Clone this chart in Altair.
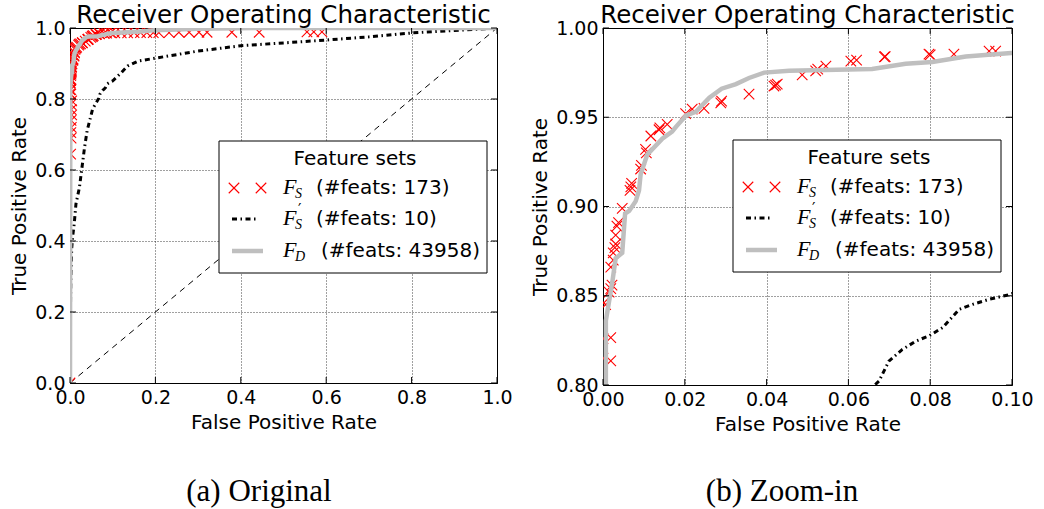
import altair as alt
import pandas as pd

# ---------------- data ----------------
# F_S : red "x" markers
fs_fpr = [0.0,
          0.0015, 0.0025, 0.002, 0.003, 0.0025, 0.004, 0.003, 0.002, 0.004,
          0.0, 0.0019, 0.0, 0.0019, 0.00065, 0.0002, 0.0015, 0.0019, 0.0022,
          0.0019, 0.0025, 0.0025, 0.0029, 0.0031, 0.0031, 0.0034, 0.0038,
          0.0047, 0.0066, 0.0068, 0.0070,
          0.0092, 0.0094, 0.0104, 0.0106, 0.0117, 0.0137, 0.0139, 0.0157,
          0.0202, 0.0218, 0.0247, 0.0288, 0.0290, 0.0357, 0.0418, 0.0422,
          0.0426, 0.0487, 0.0520, 0.0525, 0.0545, 0.0606, 0.0620, 0.0688,
          0.0690, 0.0797, 0.0800, 0.0858, 0.0944, 0.0960,
          0.105, 0.12, 0.135, 0.15, 0.165, 0.18, 0.195, 0.208, 0.232, 0.255,
          0.279, 0.302, 0.321, 0.379, 0.443, 0.555, 0.571, 0.590]
fs_tpr = [0.0,
          0.645, 0.69, 0.705, 0.72, 0.74, 0.755, 0.77, 0.785, 0.795,
          0.815, 0.8135, 0.826, 0.8265, 0.845, 0.846, 0.852, 0.854, 0.856,
          0.866, 0.870, 0.874, 0.877, 0.879, 0.884, 0.889, 0.891,
          0.899, 0.909, 0.911, 0.913,
          0.921, 0.923, 0.932, 0.930, 0.9395, 0.943, 0.944, 0.946,
          0.952, 0.9546, 0.955, 0.958, 0.959, 0.963, 0.9675, 0.968,
          0.9686, 0.9737, 0.976, 0.977, 0.9787, 0.9815, 0.982, 0.9838,
          0.984, 0.9854, 0.985, 0.9854, 0.987, 0.987,
          0.986, 0.986, 0.986, 0.987, 0.987, 0.987, 0.987, 0.987, 0.987, 0.988,
          0.988, 0.988, 0.988, 0.988, 0.988, 0.989, 0.989, 0.989]

# F'_S : black dash-dot line
fsp_fpr = [0.0, 0.001, 0.002, 0.004, 0.006, 0.010, 0.014, 0.022, 0.027, 0.034,
           0.040, 0.053, 0.0675, 0.0699, 0.0732, 0.0765, 0.0797, 0.0830,
           0.0871, 0.0904, 0.0944, 0.0997, 0.120, 0.135,
           0.160, 0.200, 0.300, 0.400, 0.500, 0.600, 0.700, 0.800, 0.900, 1.0]
fsp_tpr = [0.0, 0.20, 0.30, 0.38, 0.41, 0.45, 0.505, 0.55, 0.597, 0.663,
           0.71, 0.772, 0.8022, 0.8134, 0.8199, 0.8246, 0.8275, 0.8321,
           0.8424, 0.8452, 0.8480, 0.8508, 0.874, 0.893,
           0.907, 0.915, 0.935, 0.950, 0.958, 0.966, 0.975, 0.986, 0.993, 1.0]

# F_D : grey solid line
fd_fpr = [0.0, 0.0007, 0.0007, 0.0023, 0.0031, 0.0047, 0.0054, 0.0064, 0.0080,
          0.0088, 0.0092, 0.0108, 0.0145, 0.0169, 0.0180, 0.0203, 0.0227,
          0.0260, 0.0290, 0.0325, 0.0357, 0.0394, 0.0455, 0.0658, 0.0740,
          0.0805, 0.0887, 0.0998, 0.135, 0.166, 0.200, 0.300, 0.450, 1.0]
fd_tpr = [0.0, 0.80, 0.836, 0.858, 0.871, 0.874, 0.896, 0.8975, 0.903,
          0.909, 0.918, 0.929, 0.938, 0.942, 0.945, 0.951, 0.953,
          0.961, 0.966, 0.9686, 0.972, 0.975, 0.976, 0.977, 0.980,
          0.981, 0.984, 0.986, 0.988, 0.990, 0.994, 0.998, 1.0, 1.0]

diag_fpr = [0.0, 1.0]
diag_tpr = [0.0, 1.0]

left_xticks = [0.0, 0.2, 0.4, 0.6, 0.8, 1.0]
left_yticks = [0.0, 0.2, 0.4, 0.6, 0.8, 1.0]
right_xticks = [0.0, 0.02, 0.04, 0.06, 0.08, 0.10]
right_yticks = [0.80, 0.85, 0.90, 0.95, 1.00]

panel_title = "Receiver Operating Characteristic"
x_title = "False Positive Rate"
y_title = "True Positive Rate"
legend_title = "Feature sets"
legend_subs = ["S", "S", "D"]
legend_counts = ["(#feats: 173)", "(#feats: 10)", "(#feats: 43958)"]
captions = ["(a) Original", "(b) Zoom-in"]

# ---------------- tables ----------------
fs_df = pd.DataFrame({"fpr": fs_fpr, "tpr": fs_tpr})
fsp_df = pd.DataFrame({"fpr": fsp_fpr, "tpr": fsp_tpr, "i": range(len(fsp_fpr))})
fd_df = pd.DataFrame({"fpr": fd_fpr, "tpr": fd_tpr, "i": range(len(fd_fpr))})
diag_df = pd.DataFrame({"fpr": diag_fpr, "tpr": diag_tpr, "i": range(2)})
one = pd.DataFrame({"k": [0]})

XPATH = "M-1,-1L1,1M-1,1L1,-1"
SANS = "DejaVu Sans"
SERIF = "Liberation Serif"
GREY = "#bfbfbf"
DASHDOT = [5, 3.5, 1.5, 3.5]


def panel(xdom, ydom, w, h, xticks, yticks, fmt, with_diag, caption, cap_x,
          leg_x, leg_y):
    xscale = alt.Scale(domain=xdom, nice=False, zero=False)
    yscale = alt.Scale(domain=ydom, nice=False, zero=False)
    common = dict(grid=True, ticks=False, domain=False, labelFont=SANS,
                  labelFontSize=19, labelColor="black", labelFlush=False,
                  labelOverlap=False, titleFont=SANS, titleFontSize=20,
                  titleFontWeight="normal", titleColor="black",
                  gridColor="black", gridDash=[1, 2], gridOpacity=0.75,
                  gridWidth=1, format=fmt)
    xaxis = alt.Axis(values=xticks, title=x_title, labelPadding=5,
                     titlePadding=5, **common)
    yaxis = alt.Axis(values=yticks, title=y_title, labelPadding=5,
                     titlePadding=5, **common)

    def X(f):
        return alt.X(f, type="quantitative", scale=xscale, axis=xaxis)

    def Y(f):
        return alt.Y(f, type="quantitative", scale=yscale, axis=yaxis)

    layers = []
    if with_diag:
        layers.append(alt.Chart(diag_df).mark_line(
            color="black", strokeWidth=1, strokeDash=[6, 5], clip=True
        ).encode(x=X("fpr"), y=Y("tpr"), order="i:Q"))
    layers.append(alt.Chart(fs_df).mark_point(
        shape=XPATH, size=110, filled=False, stroke="red", strokeWidth=1.1,
        opacity=1, clip=True
    ).encode(x=X("fpr"), y=Y("tpr")))
    layers.append(alt.Chart(fsp_df).mark_line(
        color="black", strokeWidth=3, strokeDash=DASHDOT, clip=True
    ).encode(x=X("fpr"), y=Y("tpr"), order="i:Q"))
    layers.append(alt.Chart(fd_df).mark_line(
        color=GREY, strokeWidth=4.5, clip=True
    ).encode(x=X("fpr"), y=Y("tpr"), order="i:Q"))

    # inward ticks on all four sides
    xt = pd.DataFrame({"t": xticks})
    yt = pd.DataFrame({"t": yticks})
    layers.append(alt.Chart(xt).mark_rule(color="black", strokeWidth=1).encode(
        x=X("t"), y=alt.value(h), y2=alt.value(h - 6)))
    layers.append(alt.Chart(xt).mark_rule(color="black", strokeWidth=1).encode(
        x=X("t"), y=alt.value(0), y2=alt.value(6)))
    layers.append(alt.Chart(yt).mark_rule(color="black", strokeWidth=1).encode(
        y=Y("t"), x=alt.value(0), x2=alt.value(6)))
    layers.append(alt.Chart(yt).mark_rule(color="black", strokeWidth=1).encode(
        y=Y("t"), x=alt.value(w), x2=alt.value(w - 6)))

    # legend box
    L = alt.Chart(one)
    layers.append(L.mark_rect(fill="white", stroke="black", strokeWidth=1).encode(
        x=alt.value(leg_x), x2=alt.value(leg_x + 268),
        y=alt.value(leg_y), y2=alt.value(leg_y + 132)))
    layers.append(L.mark_text(font=SANS, fontSize=20, color="black",
                              align="center", baseline="middle").encode(
        x=alt.value(leg_x + 136), y=alt.value(leg_y + 18),
        text=alt.value(legend_title)))
    rows = [47, 78, 110]
    for mx in (15, 42):
        layers.append(L.mark_point(shape=XPATH, size=110, filled=False,
                                   stroke="red", strokeWidth=1.1, opacity=1).encode(
            x=alt.value(leg_x + mx), y=alt.value(leg_y + rows[0])))
    layers.append(L.mark_rule(color="black", strokeWidth=3,
                              strokeDash=DASHDOT).encode(
        x=alt.value(leg_x + 13), x2=alt.value(leg_x + 38),
        y=alt.value(leg_y + rows[1])))
    layers.append(L.mark_rule(color=GREY, strokeWidth=4.5).encode(
        x=alt.value(leg_x + 13), x2=alt.value(leg_x + 44),
        y=alt.value(leg_y + rows[2])))
    for k, ry in enumerate(rows):
        layers.append(L.mark_text(font=SERIF, fontStyle="italic", fontSize=22,
                                  color="black", align="left",
                                  baseline="middle").encode(
            x=alt.value(leg_x + 64), y=alt.value(leg_y + ry - 1),
            text=alt.value("F")))
        layers.append(L.mark_text(font=SERIF, fontStyle="italic", fontSize=14,
                                  color="black", align="left",
                                  baseline="middle").encode(
            x=alt.value(leg_x + 76), y=alt.value(leg_y + ry + 6),
            text=alt.value(legend_subs[k])))
        if k == 1:
            layers.append(L.mark_text(font=SANS, fontSize=15, color="black",
                                      align="left", baseline="middle").encode(
                x=alt.value(leg_x + 79), y=alt.value(leg_y + ry - 9),
                text=alt.value("\u2032")))
        layers.append(L.mark_text(font=SANS, fontSize=20, color="black",
                                  align="left", baseline="middle").encode(
            x=alt.value(leg_x + (102 if k == 2 else 97)),
            y=alt.value(leg_y + ry),
            text=alt.value(legend_counts[k])))

    # caption under the panel
    layers.append(L.mark_text(font=SERIF, fontSize=31, color="black",
                              align="center", baseline="alphabetic").encode(
        x=alt.value(cap_x), y=alt.value(473), text=alt.value(caption)))

    return alt.layer(*layers).properties(
        width=w, height=h,
        title=alt.TitleParams(panel_title, font=SANS, fontSize=24.5,
                              fontWeight="normal", color="black",
                              anchor="middle", offset=-9))


left = panel([0, 1], [0, 1], 427, 355, left_xticks, left_yticks, ".1f",
             True, captions[0], 189, 149, 113)
right = panel([0, 0.1], [0.8, 1.0], 409, 357, right_xticks, right_yticks, ".2f",
              False, captions[1], 179, 130, 112)

chart = alt.hconcat(left, right, spacing=106, bounds="flush").configure_view(
    stroke="black", strokeWidth=1
).properties(
    padding={"left": 9, "top": 2, "right": 0, "bottom": 0},
    background="white"
)

chart.save("out.html", embed_options={"renderer": "svg", "actions": False})
